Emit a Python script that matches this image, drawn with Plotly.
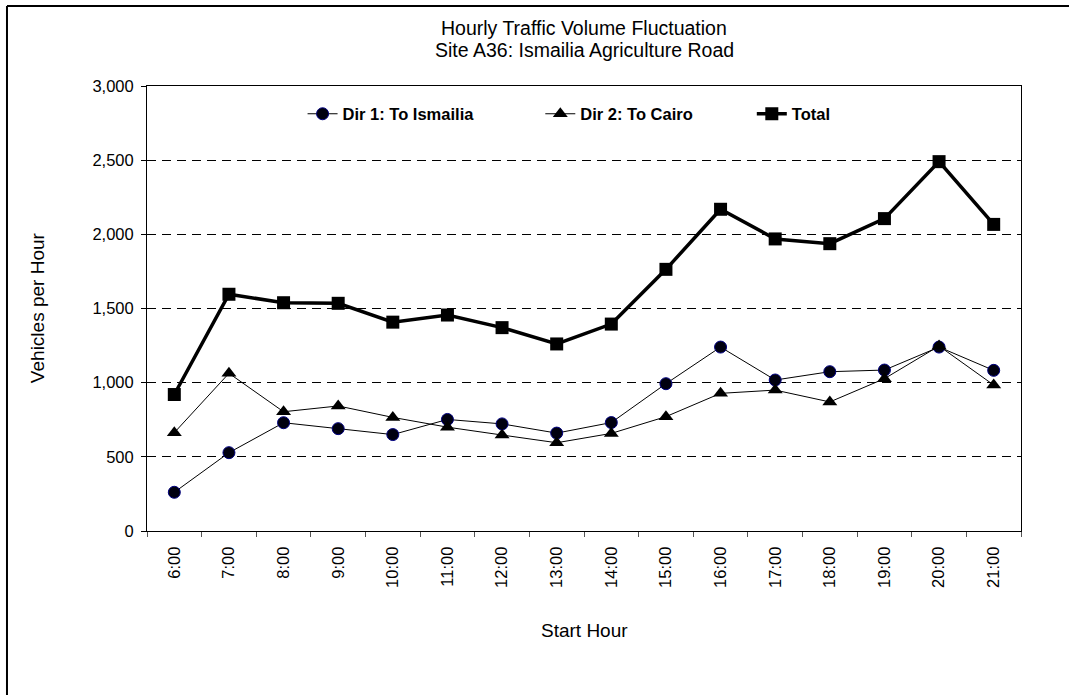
import plotly.graph_objects as go

# Hourly counts at Site A36 (Ismailia Agriculture Road)
hours = ["6:00", "7:00", "8:00", "9:00", "10:00", "11:00", "12:00", "13:00",
         "14:00", "15:00", "16:00", "17:00", "18:00", "19:00", "20:00", "21:00"]
dir1_to_ismailia = [261, 528, 730, 690, 650, 752, 722, 660,
                    731, 993, 1240, 1018, 1074, 1085, 1240, 1083]
dir2_to_cairo = [663, 1063, 804, 843, 766, 700, 647, 595,
                 658, 771, 928, 950, 870, 1027, 1247, 984]
total = [920, 1596, 1539, 1535, 1408, 1456, 1371, 1261,
         1395, 1764, 2169, 1969, 1937, 2106, 2490, 2067]

y_ticks = [0, 500, 1000, 1500, 2000, 2500, 3000]

title_lines = ["Hourly Traffic Volume Fluctuation", "Site A36: Ismailia Agriculture Road"]

FONT = "Liberation Sans, Arial, sans-serif"

fig = go.Figure()

fig.add_trace(go.Scatter(
    x=hours, y=dir1_to_ismailia, name="Dir 1: To Ismailia", mode="lines+markers",
    line=dict(color="black", width=1),
    marker=dict(symbol="circle", size=12, color="#000010",
                line=dict(color="#000080", width=1)),
    legend="legend",
))
fig.add_trace(go.Scatter(
    x=hours, y=dir2_to_cairo, name="Dir 2: To Cairo", mode="lines+markers",
    line=dict(color="black", width=1),
    marker=dict(symbol="triangle-up", size=13, color="black",
                line=dict(color="black", width=0)),
    legend="legend2",
))
fig.add_trace(go.Scatter(
    x=hours, y=total, name="Total", mode="lines+markers",
    line=dict(color="black", width=3.5),
    marker=dict(symbol="square", size=13, color="black",
                line=dict(color="black", width=0)),
    legend="legend3",
))

legend_common = dict(
    orientation="h", yanchor="middle", y=0.937, xanchor="left",
    bgcolor="rgba(0,0,0,0)", borderwidth=0,
    font=dict(family=FONT, size=16.5, color="black", weight="bold"),
    itemwidth=30,
)

title_annotations = [
    dict(text=line, xref="paper", yref="paper", x=0.5, y=(531 - y_px) / 445,
         xanchor="center", yanchor="middle", showarrow=False,
         font=dict(family=FONT, size=19.5, color="black"))
    for line, y_px in zip(title_lines, [28, 50])
]

fig.update_layout(
    width=1069, height=695,
    margin=dict(l=147, r=48, t=86, b=164),
    paper_bgcolor="white", plot_bgcolor="white",
    font=dict(family=FONT, color="black"),
    showlegend=True,
    legend=dict(x=0.178, **legend_common),
    legend2=dict(x=0.450, **legend_common),
    legend3=dict(x=0.692, **legend_common),
    xaxis=dict(
        type="category", range=[-0.5, len(hours) - 0.5],
        tickangle=-90, tickfont=dict(family=FONT, size=16.5, color="black"),
        ticks="outside", ticklen=5, tickcolor="#555", tickson="boundaries",
        ticklabelstandoff=8,
        showline=True, linecolor="black", linewidth=1, mirror=True,
        showgrid=False, zeroline=False,
    ),
    yaxis=dict(
        range=[0, 3000], tickvals=y_ticks, tickformat=",d",
        tickfont=dict(family=FONT, size=16.5, color="black"),
        ticks="outside", ticklen=5, tickcolor="black",
        ticklabelstandoff=4,
        showline=True, linecolor="black", linewidth=1, mirror=True,
        showgrid=True, gridcolor="black", gridwidth=1, griddash="9px,6px",
        zeroline=False,
    ),
    annotations=title_annotations + [
        dict(text="Vehicles per Hour", xref="paper", yref="paper",
             x=-0.1259, y=0.503, xanchor="center", yanchor="middle", textangle=-90,
             showarrow=False, font=dict(family=FONT, size=19, color="black")),
        dict(text="Start Hour", xref="paper", yref="paper",
             x=0.5, y=-0.2225, xanchor="center", yanchor="middle",
             showarrow=False, font=dict(family=FONT, size=19, color="black")),
    ],
    shapes=[
        # chart-area frame (top and left edges)
        dict(type="line", xref="paper", yref="paper", x0=-0.1602, x1=1.3,
             y0=1.1798, y1=1.1798, line=dict(color="black", width=2)),
        dict(type="line", xref="paper", yref="paper", x0=-0.1602, x1=-0.1602,
             y0=1.1798, y1=-0.6, line=dict(color="black", width=2)),
    ],
)

fig.write_html("out.html")
